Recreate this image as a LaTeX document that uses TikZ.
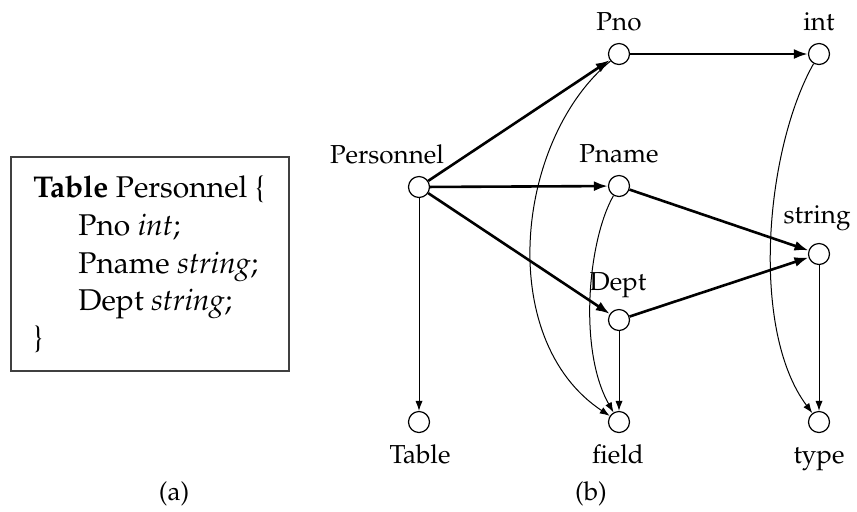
\documentclass[tikz,border=0pt]{standalone}
\usepackage[T1]{fontenc}
\usepackage{mathpazo}
\usetikzlibrary{arrows.meta}
\begin{document}
\begin{tikzpicture}[x=0.5pt,y=-0.5pt,
  vertex/.style={circle,draw,line width=0.6pt,minimum size=10.5pt,inner sep=0pt},
  lbl/.style={font=\fontsize{13}{15}\selectfont,anchor=base,inner sep=0pt},
  code/.style={font=\fontsize{15}{18}\selectfont,anchor=base west,inner sep=0pt},
  strong/.style={line width=1.3pt,-{Latex[length=7pt,width=5pt]}},
  weak/.style={line width=0.5pt,-{Latex[length=5pt,width=3.6pt]}}]
\useasboundingbox (0,0) rectangle (857,511);

% (a) the table declaration
\draw[black!75,line width=0.6pt] (11,157) rectangle (289,371);
\node[code] (c1) at (33,197) {\textbf{Table} Personnel \{};
\node[code] (c2) at (78,235) {Pno \textit{int};};
\node[code] (c3) at (78,273) {Pname \textit{string};};
\node[code] (c4) at (78,310) {Dept \textit{string};};
\node[code] (c5) at (33,347) {\}};
\node[lbl] (capa) at (174,500) {(a)};

% (b) the graph
\node[vertex] (Personnel) at (419,187) {};
\node[vertex] (Pno) at (619,54) {};
\node[vertex] (int) at (819,54) {};
\node[vertex] (Pname) at (619,186) {};
\node[vertex] (string) at (819,254) {};
\node[vertex] (Dept) at (619,320) {};
\node[vertex] (Table) at (419,422) {};
\node[vertex] (field) at (619,422) {};
\node[vertex] (type) at (819,422) {};

\node[lbl] (lPersonnel) at (387,163) {Personnel};
\node[lbl] (lPno) at (619,30) {Pno};
\node[lbl] (lint) at (819,30) {int};
\node[lbl] (lPname) at (619,162) {Pname};
\node[lbl] (lstring) at (817,223) {string};
\node[lbl] (lDept) at (618,290) {Dept};
\node[lbl] (lTable) at (420,463) {Table};
\node[lbl] (lfield) at (618,463) {field};
\node[lbl] (ltype) at (819,463) {type};
\node[lbl] (capb) at (591,500) {(b)};

\draw[strong] (Personnel) -- (Pno);
\draw[strong] (Personnel) -- (Pname);
\draw[strong] (Personnel) -- (Dept);
\draw[strong] (Pno) -- (int);
\draw[strong] (Pname) -- (string);
\draw[strong] (Dept) -- (string);

\draw[weak] (Personnel) -- (Table);
\draw[weak] (Dept) -- (field);
\draw[weak] (string) -- (type);
\draw[weak] (Pno) .. controls (515,140) and (495,340) .. (field);
\draw[weak] (Pname) .. controls (588,240) and (578,350) .. (field);
\draw[weak] (int) .. controls (765,150) and (750,330) .. (type);
\end{tikzpicture}
\end{document}
